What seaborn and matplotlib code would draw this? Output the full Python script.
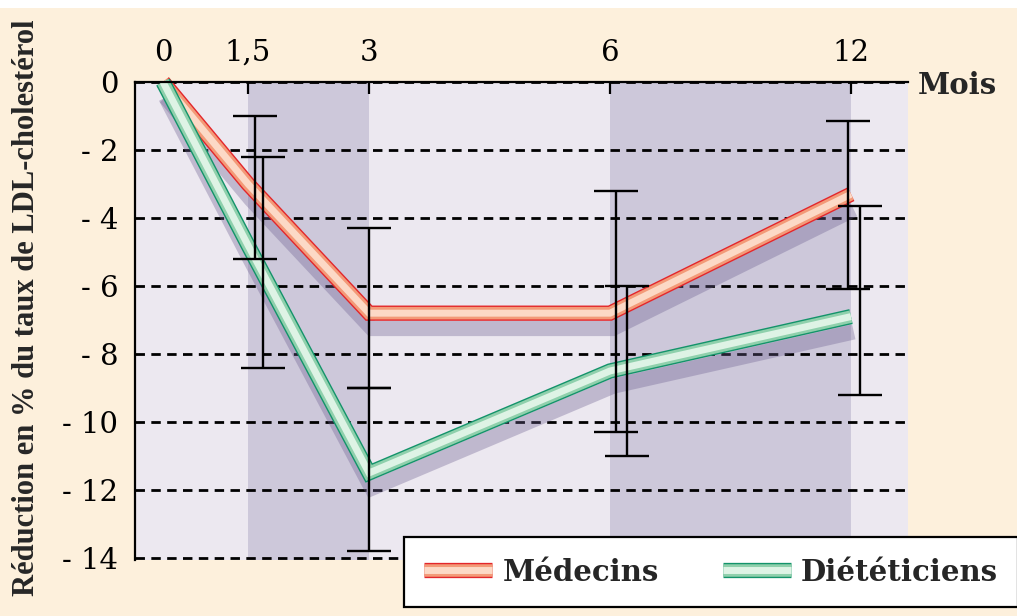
import numpy as np
import pandas as pd
import matplotlib
matplotlib.use("Agg")
import matplotlib.pyplot as plt
import matplotlib.patheffects as pe
from matplotlib.lines import Line2D
from matplotlib.patches import Rectangle
from matplotlib.transforms import ScaledTranslation
import seaborn as sns

# ---------------- data ----------------
mois = [0, 1.5, 3, 6, 12]
mois_labels = ["0", "1,5", "3", "6", "12"]
groupes = ["Médecins", "Diététiciens"]
medecins = [0.0, -3.0, -6.8, -6.8, -3.3]
dieteticiens = [0.0, -4.8, -11.5, -8.5, -6.9]

# error bar extents (lower / upper bound) at each follow-up visit
mois_err = [1.5, 3, 6, 12]
medecins_bas = [-5.2, -9.0, -10.3, -6.1]
medecins_haut = [-1.0, -4.3, -3.2, -1.15]
dieteticiens_bas = [-8.4, -13.8, -11.0, -9.2]
dieteticiens_haut = [-2.2, -9.0, -6.0, -3.65]

y_ticks = [0, -2, -4, -6, -8, -10, -12, -14]
y_labels = ["0", "- 2", "- 4", "- 6", "- 8", "- 10", "- 12", "- 14"]

# ---------------- style ----------------
W, H, DPI = 1017, 616, 100
CREAM = "#fdf0dc"
BAND_LIGHT = "#ece8f0"
BAND_DARK = "#cdc8da"
RED_EDGE, RED_MID, RED_CORE = "#e3262b", "#f39a78", "#fcd9c6"
GREEN_EDGE, GREEN_MID, GREEN_CORE = "#13936a", "#8fd0ac", "#def3e5"

sns.set_style("white")
plt.rcParams["font.family"] = ["DejaVu Serif", "DejaVu Sans"]

fig = plt.figure(figsize=(W / DPI, H / DPI), dpi=DPI, facecolor=CREAM)
fig.patches.append(Rectangle((0, 1 - 8 / H), 1, 8 / H, transform=fig.transFigure,
                             facecolor="white", edgecolor="none", zorder=-1))

# axes box (pixels): left 135, right 908, y=0 at 82, y=-14.06 at 560
ax = fig.add_axes([135 / W, 1 - 560 / H, (908 - 135) / W, (560 - 82) / H])
ax.set_facecolor(BAND_LIGHT)

# uneven month spacing along the time axis (piecewise-linear scale)
knots_m = np.array([-10.0, 0.0, 1.5, 3.0, 6.0, 12.0, 40.0])
knots_u = np.array([-567.0, 0.0, 85.0, 206.0, 447.0, 688.0, 1813.0])


def fwd(x):
    return np.interp(x, knots_m, knots_u)


def inv(u):
    return np.interp(u, knots_u, knots_m)


ax.set_xscale("function", functions=(fwd, inv))
ax.set_xlim(inv(-28.0), inv(745.0))
ax.set_ylim(-14.06, 0)

# shaded periods
ax.axvspan(mois[1], mois[2], color=BAND_DARK, lw=0, zorder=0.2)
ax.axvspan(mois[3], mois[4], color=BAND_DARK, lw=0, zorder=0.2)

# dashed horizontal grid
ax.set_axisbelow(True)
ax.yaxis.grid(True, linestyle=(0, (3.4, 2.3)), color="black", lw=2)
ax.xaxis.grid(False)

# mean curves
df = pd.DataFrame({
    "mois": mois * 2,
    "reduction": medecins + dieteticiens,
    "groupe": [groupes[0]] * len(mois) + [groupes[1]] * len(mois),
})
sns.lineplot(data=df, x="mois", y="reduction", hue="groupe", hue_order=groupes,
             palette=[RED_MID, GREEN_MID], lw=11, legend=False, ax=ax,
             solid_joinstyle="miter", solid_capstyle="butt", zorder=3)


def tube(edge, mid, core, shadow=True):
    fx = []
    if shadow:
        fx.append(pe.SimpleLineShadow(offset=(2, -11), shadow_color="#6d6090", alpha=0.35))
    fx += [pe.Stroke(linewidth=11, foreground=edge),
           pe.Stroke(linewidth=9, foreground=mid),
           pe.Stroke(linewidth=5, foreground=core)]
    return fx


ax.lines[0].set_path_effects(tube(RED_EDGE, RED_MID, RED_CORE))
ax.lines[1].set_path_effects(tube(GREEN_EDGE, GREEN_MID, GREEN_CORE))
ax.lines[0].set_clip_on(False)
ax.lines[1].set_clip_on(False)

# error bars, nudged a few pixels right of each visit
red_dx = [7, 0, 6, -3]
green_dx = [15, 0, 17, 9]


def draw_bars(lo, hi, dxs):
    lo, hi = np.array(lo), np.array(hi)
    for xm, l, h, dx in zip(mois_err, lo, hi, dxs):
        c = ax.errorbar([xm], [(l + h) / 2], yerr=[(h - l) / 2], fmt="none",
                        ecolor="black", elinewidth=1.7, capsize=15.5, capthick=1.7,
                        zorder=5)
        tr = ax.transData + ScaledTranslation(dx / DPI, 0, fig.dpi_scale_trans)
        for art in list(c.lines[1]) + list(c.lines[2]):
            art.set_transform(tr)
            art.set_clip_on(False)


draw_bars(medecins_bas, medecins_haut, red_dx)
draw_bars(dieteticiens_bas, dieteticiens_haut, green_dx)

# axes decoration
for side in ("bottom", "right"):
    ax.spines[side].set_visible(False)
for side in ("top", "left"):
    ax.spines[side].set_color("black")
    ax.spines[side].set_linewidth(1.6)
    ax.spines[side].set_zorder(4)

ax.xaxis.tick_top()
ax.set_xticks(mois, mois_labels)
ax.xaxis.set_minor_locator(matplotlib.ticker.NullLocator())
ax.tick_params(axis="x", direction="in", length=8.5, width=1.6, pad=11,
               labelsize=21, colors="black")
ax.set_yticks(y_ticks, y_labels)
ax.tick_params(axis="y", length=0, pad=12, labelsize=21, colors="black")
for lab in ax.get_xticklabels() + ax.get_yticklabels():
    lab.set_fontweight("medium")
ax.set_xlabel("")
ax.set_ylabel("")

fig.text(918 / W, 1 - 86 / H, "Mois", fontsize=21, fontweight="bold",
         family="DejaVu Serif", ha="left", va="center")
fig.text(27 / W, 0.5, "Réduction en % du taux de LDL-cholestérol", rotation=90,
         fontsize=22, fontweight="bold", family="Liberation Serif",
         ha="center", va="center")

# legend
handles = [
    Line2D([], [], color=RED_MID, lw=11, solid_capstyle="butt",
           path_effects=tube(RED_EDGE, RED_MID, RED_CORE, shadow=False)),
    Line2D([], [], color=GREEN_MID, lw=11, solid_capstyle="butt",
           path_effects=tube(GREEN_EDGE, GREEN_MID, GREEN_CORE, shadow=False)),
]
leg = fig.legend(handles, groupes, loc="lower left", bbox_to_anchor=(404 / W, 9 / H),
                 ncol=2, frameon=True, fancybox=False, edgecolor="black",
                 facecolor="white", framealpha=1, borderaxespad=0,
                 prop={"family": "DejaVu Serif", "weight": "bold", "size": 21},
                 handlelength=2.33, handletextpad=0.34, columnspacing=2.2,
                 borderpad=0.7)
leg.get_frame().set_linewidth(1.6)
leg.set_zorder(10)

fig.savefig("out.png", dpi=DPI, facecolor=fig.get_facecolor())
